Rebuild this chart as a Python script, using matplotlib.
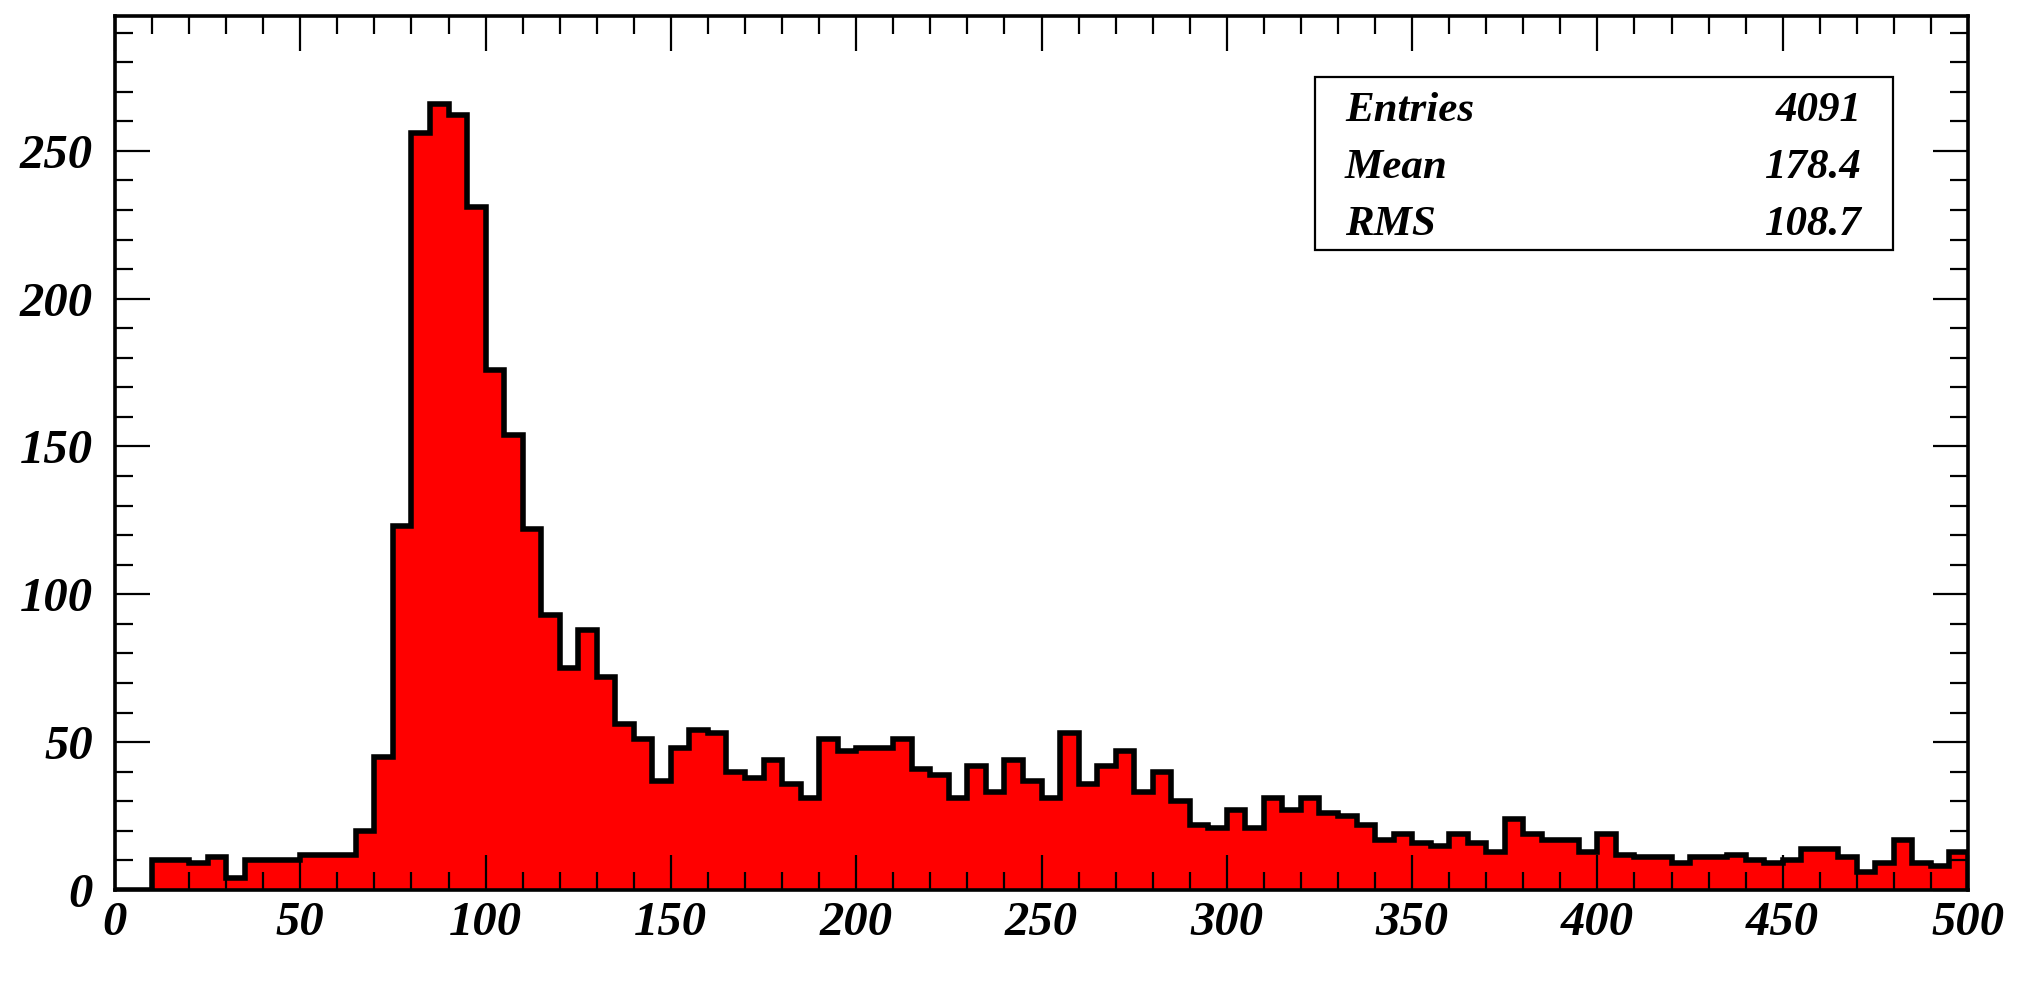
import numpy as np
import matplotlib
matplotlib.use("Agg")
import matplotlib.pyplot as plt
from matplotlib.patches import Rectangle

# histogram: 100 bins of width 5 from 0 to 500
x_low = 0
x_high = 500
n_bins = 100
counts = [0, 0, 10, 10, 9, 11, 4, 10, 10, 10,
          12, 12, 12, 20, 45, 123, 256, 266, 262, 231,
          176, 154, 122, 93, 75, 88, 72, 56, 51, 37,
          48, 54, 53, 40, 38, 44, 36, 31, 51, 47,
          48, 48, 51, 41, 39, 31, 42, 33, 44, 37,
          31, 53, 36, 42, 47, 33, 40, 30, 22, 21,
          27, 21, 31, 27, 31, 26, 25, 22, 17, 19,
          16, 15, 19, 16, 13, 24, 19, 17, 17, 13,
          19, 12, 11, 11, 9, 11, 11, 12, 10, 9,
          10, 14, 14, 11, 6, 9, 17, 9, 8, 13]
y_max = 295.7

stat_names = ["Entries", "Mean", "RMS"]
stat_values = ["4091", "178.4", "108.7"]

xticks_major = [0, 50, 100, 150, 200, 250, 300, 350, 400, 450, 500]
yticks_major = [0, 50, 100, 150, 200, 250]

font = dict(family="Liberation Serif", weight="bold", style="italic")

edges = np.linspace(x_low, x_high, n_bins + 1)

fig = plt.figure(figsize=(20.28, 9.84), dpi=100)
ax = fig.add_axes([115 / 2028, 1 - 890 / 984, (1968 - 115) / 2028, (890 - 15.7) / 984])

ax.stairs(counts, edges, fill=True, color="#ff0000", lw=0)
ax.stairs(counts, edges, color="black", lw=4.0, baseline=0)

ax.set_xlim(x_low, x_high)
ax.set_ylim(0, y_max)

ax.set_xticks(xticks_major)
ax.set_xticks(np.arange(0, 501, 10), minor=True)
ax.set_yticks(yticks_major)
ax.set_yticks(np.arange(0, 291, 10), minor=True)

ax.tick_params(which="both", direction="in", top=True, right=True, width=1.6, color="black")
ax.tick_params(which="major", length=25)
ax.tick_params(which="minor", length=13)
ax.tick_params(axis="x", which="major", pad=8)
ax.tick_params(axis="y", which="major", pad=16)

for lab in ax.get_xticklabels() + ax.get_yticklabels():
    lab.set_fontfamily(font["family"])
    lab.set_fontweight(font["weight"])
    lab.set_fontstyle(font["style"])
    lab.set_fontsize(35)

for sp in ax.spines.values():
    sp.set_linewidth(2.6)

# stats box
box = Rectangle((1315 / 2028, 1 - 250 / 984), (1893 - 1315) / 2028, (250 - 77) / 984,
                transform=fig.transFigure, fill=False, lw=1.6, edgecolor="black")
fig.add_artist(box)
rows_y = [121, 178, 235]
for name, val, yb in zip(stat_names, stat_values, rows_y):
    fig.text(1345 / 2028, 1 - yb / 984, name, ha="left", va="baseline", fontsize=31, **font)
    fig.text(1862 / 2028, 1 - yb / 984, val, ha="right", va="baseline", fontsize=31, **font)

fig.savefig("out.png", dpi=100, facecolor="white")
